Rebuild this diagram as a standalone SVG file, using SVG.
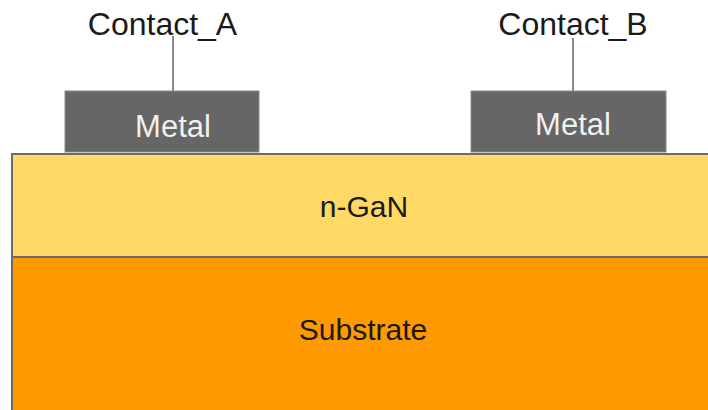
<svg xmlns="http://www.w3.org/2000/svg" width="708" height="410" viewBox="0 0 708 410">
  <style>
    .layer { stroke: #6b6b6b; stroke-width: 2; }
    .metal { fill: #666666; stroke: #8a8a8a; stroke-width: 1; }
    .lbl { font-family: "Liberation Sans", Arial, sans-serif; text-anchor: middle; }
    .dark { fill: #1a1a1a; }
    .light { fill: #f0f0f0; }
    .conn { stroke: #666666; stroke-width: 1.5; fill: none; }
  </style>
  <rect width="708" height="410" fill="#ffffff"/>
  <g id="substrate">
    <rect class="layer" x="12" y="257" width="710" height="170" fill="#ff9900"/>
    <text class="lbl dark" x="363" y="340" font-size="30">Substrate</text>
  </g>
  <g id="ngan">
    <rect class="layer" x="12" y="154" width="710" height="103" fill="#ffd966"/>
    <text class="lbl dark" x="364" y="217" font-size="30">n-GaN</text>
  </g>
  <g id="metal_a">
    <rect class="metal" x="65" y="91" width="194" height="61"/>
    <text class="lbl light" x="173" y="137" font-size="31">Metal</text>
  </g>
  <g id="metal_b">
    <rect class="metal" x="471" y="91" width="195" height="61"/>
    <text class="lbl light" x="573" y="135" font-size="31">Metal</text>
  </g>
  <g id="contact_a">
    <text class="lbl dark" x="162.5" y="35" font-size="32">Contact_A</text>
  </g>
  <g id="contact_b">
    <text class="lbl dark" x="573" y="35" font-size="32">Contact_B</text>
  </g>
  <g id="connectors">
    <line class="conn" x1="173" y1="36" x2="173" y2="91"/>
    <line class="conn" x1="573" y1="38" x2="573" y2="91"/>
  </g>
</svg>
